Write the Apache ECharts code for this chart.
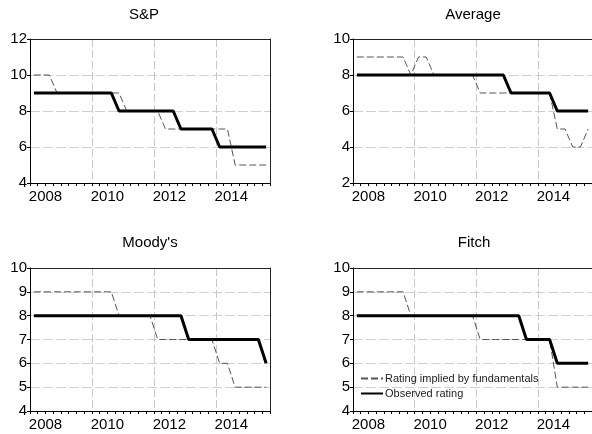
<!DOCTYPE html>
<html>
<head>
<meta charset="utf-8">
<script src="https://cdn.jsdelivr.net/npm/echarts@6/dist/echarts.min.js"></script>
<style>
  html, body { margin: 0; padding: 0; background: #fff; }
  #chart { width: 592px; height: 434px; }
</style>
</head>
<body>
<div id="chart"></div>
<script>
// quarters 2008Q1 .. 2015Q3
const quarters = [
  '2008Q1', '2008Q2', '2008Q3', '2008Q4',
  '2009Q1', '2009Q2', '2009Q3', '2009Q4',
  '2010Q1', '2010Q2', '2010Q3', '2010Q4',
  '2011Q1', '2011Q2', '2011Q3', '2011Q4',
  '2012Q1', '2012Q2', '2012Q3', '2012Q4',
  '2013Q1', '2013Q2', '2013Q3', '2013Q4',
  '2014Q1', '2014Q2', '2014Q3', '2014Q4',
  '2015Q1', '2015Q2', '2015Q3'
]
const yearLabels = [2008, 2010, 2012, 2014]

const panelTitles = ['S&P', 'Average', "Moody's", 'Fitch']
const seriesNames = ['Rating implied by fundamentals', 'Observed rating']

// S&P
const spImplied  = [10,10,10, 9,9,9,9,9,9,9,9,9, 8,8,8,8,8, 7,7,7,7,7,7,7,7,7, 5,5,5,5,5]
const spObserved = [9,9,9,9,9,9,9,9,9,9,9, 8,8,8,8,8,8,8,8, 7,7,7,7,7, 6,6,6,6,6,6,6]
// Average
const avgImplied  = [9,9,9,9,9,9,9, 8, 9,9, 8,8,8,8,8,8, 7,7,7,7,7,7,7,7,7,7, 5,5, 4,4, 5]
const avgObserved = [8,8,8,8,8,8,8,8,8,8,8,8,8,8,8,8,8,8,8,8, 7,7,7,7,7,7, 6,6,6,6,6]
// Moody's
const moodysImplied  = [9,9,9,9,9,9,9,9,9,9,9, 8,8,8,8,8, 7,7,7,7,7,7,7,7, 6,6, 5,5,5,5,5]
const moodysObserved = [8,8,8,8,8,8,8,8,8,8,8,8,8,8,8,8,8,8,8,8, 7,7,7,7,7,7,7,7,7,7, 6]
// Fitch
const fitchImplied  = [9,9,9,9,9,9,9, 8,8,8,8,8,8,8,8,8, 7,7,7,7,7,7,7,7,7,7, 5,5,5,5,5]
const fitchObserved = [8,8,8,8,8,8,8,8,8,8,8,8,8,8,8,8,8,8,8,8,8,8, 7,7,7,7, 6,6,6,6,6]

const panelData = [
  [spImplied, spObserved],
  [avgImplied, avgObserved],
  [moodysImplied, moodysObserved],
  [fitchImplied, fitchObserved]
]
const yRanges = [[4, 12, 2], [2, 10, 2], [4, 10, 1], [4, 10, 1]]

// quarter label -> position on a year scale (middle of the quarter)
const qPos = q => Number(q.slice(0, 4)) + (Number(q.slice(5)) - 0.5) / 4
const tickVals = quarters.map(q => Number(q.slice(0, 4)) + (Number(q.slice(5)) - 1) / 4)
tickVals.push(2015.75)

const FONT = 'Liberation Sans, Arial, sans-serif'

const grids = [
  { left: 30, top: 39, width: 240, height: 144 },
  { left: 353, top: 39, width: 241, height: 144 },
  { left: 30, top: 268, width: 240, height: 143 },
  { left: 353, top: 268, width: 241, height: 143 }
]
const titlePos = [[144, 7], [473, 7], [150, 235], [474, 235]]

let xAxes = []
let yAxes = []
grids.forEach((g, i) => {
  // top frame line + 2-year grid lines
  xAxes.push({
    type: 'value',
    gridIndex: i,
    position: 'top',
    min: 2008,
    max: 2015.75,
    interval: 2,
    axisLine: { show: true, onZero: false, lineStyle: { color: '#222', width: 1 } },
    axisTick: { show: false },
    axisLabel: { show: false },
    splitLine: { show: true, lineStyle: { color: '#c8c8c8', type: [8, 3], width: 1 } }
  })
  // bottom axis: quarterly ticks + year labels in the middle of the year
  xAxes.push({
    type: 'value',
    gridIndex: i,
    position: 'bottom',
    min: 2008,
    max: 2015.75,
    interval: 2,
    axisLine: { show: true, onZero: false, lineStyle: { color: '#000', width: 1 } },
    axisTick: { show: true, length: 3, customValues: tickVals, lineStyle: { color: '#000' } },
    axisLabel: {
      margin: 6,
      fontFamily: FONT,
      fontSize: 15,
      color: '#000',
      customValues: yearLabels.map(y => y + 0.5),
      formatter: v => String(Math.floor(v))
    },
    splitLine: { show: false }
  })
  const r = yRanges[i]
  yAxes.push({
    type: 'value',
    gridIndex: i,
    position: 'left',
    min: r[0],
    max: r[1],
    interval: r[2],
    axisLine: { show: true, onZero: false, lineStyle: { color: '#000', width: 1 } },
    axisTick: { show: true, length: 3, lineStyle: { color: '#000' } },
    axisLabel: { margin: 3, fontFamily: FONT, fontSize: 15, color: '#000' },
    splitLine: { show: true, lineStyle: { color: '#cfcfcf', type: [10, 3], width: 1 } }
  })
  // right frame line
  yAxes.push({
    type: 'value',
    gridIndex: i,
    position: 'right',
    min: r[0],
    max: r[1],
    interval: r[2],
    axisLine: { show: true, onZero: false, lineStyle: { color: '#222', width: 1 } },
    axisTick: { show: false },
    axisLabel: { show: false },
    splitLine: { show: false }
  })
})

let option = {
  animation: false,
  backgroundColor: '#fff',
  title: panelTitles.map((t, i) => ({
    text: t,
    left: titlePos[i][0],
    top: titlePos[i][1],
    textAlign: 'center',
    padding: 0,
    textStyle: { fontFamily: FONT, fontSize: 15, fontWeight: 'normal', color: '#000' }
  })),
  legend: {
    left: 360,
    top: 373,
    orient: 'vertical',
    itemWidth: 22,
    itemHeight: 10,
    itemGap: 4,
    padding: 0,
    data: seriesNames,
    itemStyle: { opacity: 0 },
    textStyle: { fontFamily: FONT, fontSize: 11, color: '#222', padding: [0, 0, 0, -3] }
  },
  grid: grids.map(g => Object.assign({ show: false }, g)),
  xAxis: xAxes,
  yAxis: yAxes,
  series: []
}

panelData.forEach((pair, i) => {
  option.series.push({
    name: seriesNames[0],
    type: 'line',
    xAxisIndex: i * 2 + 1,
    yAxisIndex: i * 2,
    symbol: 'none',
    data: pair[0].map((v, k) => [qPos(quarters[k]), v]),
    lineStyle: { color: '#555', width: 1, type: [7, 3] },
    itemStyle: { color: '#555' },
    z: 2
  })
  option.series.push({
    name: seriesNames[1],
    type: 'line',
    xAxisIndex: i * 2 + 1,
    yAxisIndex: i * 2,
    symbol: 'none',
    data: pair[1].map((v, k) => [qPos(quarters[k]), v]),
    lineStyle: { color: '#000', width: 3 },
    itemStyle: { color: '#000' },
    z: 3
  })
})

let myChart = echarts.init(document.getElementById('chart'))
myChart.setOption(option)
</script>
</body>
</html>
